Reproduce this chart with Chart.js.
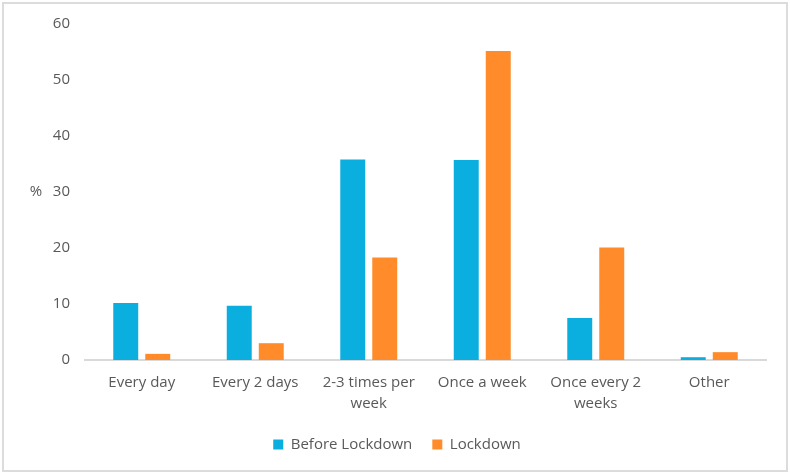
<!DOCTYPE html>
<html>
<head>
<meta charset="utf-8">
<script src="https://cdn.jsdelivr.net/npm/chart.js@4"></script>
<style>
	body { margin: 0; background: #fff; }
	#wrap { position: relative; width: 790px; height: 474px; }
	#frame {
		position: absolute; left: 2px; top: 2px; width: 782px; height: 466px;
		border: 2px solid #dcdcdc; pointer-events: none;
	}
</style>
</head>
<body>
<div id="wrap">
	<canvas id="chart" width="790" height="474"></canvas>
	<div id="frame"></div>
</div>
<script>
// Data
const categories = [
	'Every day',
	'Every 2 days',
	['2-3 times per', 'week'],
	'Once a week',
	['Once every 2', 'weeks'],
	'Other',
];
const beforeLockdown = [10.2, 9.7, 35.8, 35.7, 7.5, 0.5];
const lockdown = [1.1, 3.0, 18.3, 55.2, 20.1, 1.4];
const yTicks = [0, 10, 20, 30, 40, 50, 60];

const textColor = '#595959';
const fontFamily = '"Open Sans", "DejaVu Sans", sans-serif';

// Draws the horizontal "%" axis label left of the tick labels
const percentLabel = {
	id: 'percentLabel',
	afterDraw(chart) {
		const ctx = chart.ctx;
		const y = chart.scales.y.getPixelForValue(30);
		ctx.save();
		ctx.fillStyle = textColor;
		ctx.font = '15px ' + fontFamily;
		ctx.textAlign = 'center';
		ctx.textBaseline = 'middle';
		ctx.fillText('%', 36, y);
		ctx.restore();
	},
};

new Chart(document.getElementById('chart'), {
	type: 'bar',
	data: {
		labels: categories,
		datasets: [
			{
				label: 'Before Lockdown',
				data: beforeLockdown,
				backgroundColor: '#0bafdf',
				categoryPercentage: 0.564,
				barPercentage: 0.78,
			},
			{
				label: 'Lockdown',
				data: lockdown,
				backgroundColor: '#ff8b2a',
				categoryPercentage: 0.564,
				barPercentage: 0.78,
			},
		],
	},
	options: {
		responsive: false,
		animation: false,
		layout: {
			padding: {top: 23, right: 10, bottom: 12, left: 14},
		},
		plugins: {
			tooltip: {enabled: false},
			legend: {
				position: 'bottom',
				labels: {
					boxWidth: 10,
					boxHeight: 10,
					padding: 20,
					color: textColor,
					font: {family: fontFamily, size: 15},
				},
			},
		},
		scales: {
			x: {
				grid: {display: false, drawTicks: false},
				border: {display: true, color: '#d9d9d9', width: 2},
				ticks: {
					color: textColor,
					font: {family: fontFamily, size: 15, lineHeight: 1.4},
					padding: 12,
					maxRotation: 0,
					autoSkip: false,
				},
				afterFit: (scale) => {
					scale.height = 57;
				},
			},
			y: {
				min: 0,
				max: 60,
				grid: {display: false, drawTicks: false},
				border: {display: false},
				afterBuildTicks: (scale) => {
					scale.ticks = yTicks.map((v) => ({value: v}));
				},
				ticks: {
					color: textColor,
					font: {family: fontFamily, size: 15},
					padding: 15,
				},
				afterFit: (scale) => {
					scale.width = 71;
				},
			},
			// empty right-hand spacer so the legend stays centred on the page
			spacer: {
				type: 'linear',
				position: 'right',
				grid: {display: false, drawTicks: false},
				border: {display: false},
				ticks: {display: false},
				afterFit: (scale) => {
					scale.width = 14;
				},
			},
		},
	},
	plugins: [percentLabel],
});
</script>
</body>
</html>
